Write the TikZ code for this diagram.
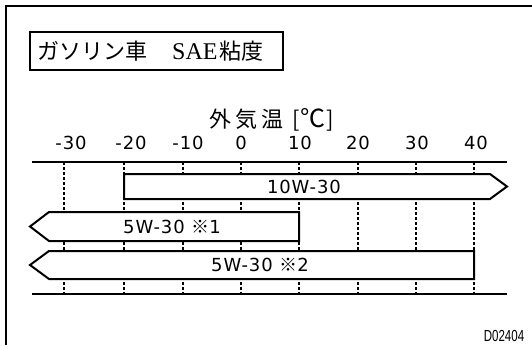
\documentclass[tikz,border=0pt]{standalone}
\usepackage{fontspec}
\setmainfont{DejaVu Sans}
\newfontfamily\jp{Noto Sans CJK JP}
\newfontfamily\jpa[LetterSpace=18]{Noto Sans CJK JP}
\newfontfamily\numf[LetterSpace=5]{DejaVu Sans}
\newfontfamily\serf{Liberation Serif}
\tikzset{
  frameline/.style={line width=1.6pt},
  bar/.style={draw, line width=2pt, fill=white, line join=miter},
  gridline/.style={line width=1.1pt, dash pattern=on 3pt off 2pt},
  axisline/.style={line width=1.6pt},
  ticklab/.style={font=\numf\fontsize{18}{18}\selectfont, inner sep=0pt},
  barlab/.style={font=\numf\fontsize{18}{18}\selectfont, inner sep=0pt},
}
\begin{document}
\begin{tikzpicture}[x=1pt,y=-1pt]
\useasboundingbox (0,0) rectangle (532,345);
% outer frame (top and left edges)
\coordinate (fa) at (532,6);
\coordinate (fb) at (6,6);
\coordinate (fc) at (6,345);
\draw[frameline] (fa) -- (fb) -- (fc);
% title box
\node[draw, line width=1.8pt, minimum width=253pt, minimum height=38pt, anchor=north west, inner sep=0pt] (titlebox) at (29,31) {};
\node[anchor=west, inner sep=0pt, font=\jp\fontsize{22}{22}\selectfont] (titletext) at (37,51) {ガソリン車\hspace{25pt}{\serf\fontsize{24}{24}\selectfont SAE}\hspace{2pt}粘度};
% axis title
\node[anchor=west, inner sep=0pt, font=\jpa\fontsize{22}{22}\selectfont] (axtitle) at (209,120) {外気温\hspace{9pt}{\jp\fontsize{22}{22}\selectfont[\hspace{1pt}{\fontsize{25}{25}\selectfont ℃}\hspace{1pt}]}};
% grid lines
\foreach \x/\n in {64/a,124/b,183/c,241/d,299/e,358/f,416/g,474/h} {
  \coordinate (top\n) at (\x,162);
  \coordinate (bot\n) at (\x,294);
  \draw[gridline] (top\n) -- (bot\n);
}
% axis lines
\coordinate (axl) at (32,162); \coordinate (axr) at (507,162);
\coordinate (bxl) at (32,294); \coordinate (bxr) at (507,294);
\draw[axisline] (axl) -- (axr);
\draw[axisline] (bxl) -- (bxr);
% tick labels
\node[ticklab] (lm30) at (71,143) {-30};
\node[ticklab] (lm20) at (131,143) {-20};
\node[ticklab] (lm10) at (188,143) {-10};
\node[ticklab] (l0) at (241,143) {0};
\node[ticklab] (l10) at (300,143) {10};
\node[ticklab] (l20) at (358,143) {20};
\node[ticklab] (l30) at (417,143) {30};
\node[ticklab] (l40) at (476,143) {40};
% bars
\draw[bar] (124,174) -- (490,174) -- (507,186.5) -- (490,199) -- (124,199) -- cycle;
\draw[bar] (299,212) -- (49,212) -- (30,226.5) -- (49,241) -- (299,241) -- cycle;
\draw[bar] (474,251) -- (49,251) -- (30,265) -- (49,279) -- (474,279) -- cycle;
\node[barlab] (b1) at (304,186.5) {10W-30};
\node[barlab] (b2) at (172,226.5) {5W-30 {\jp ※}1};
\node[barlab] (b3) at (260,265) {5W-30 {\jp ※}2};
% code
\node[inner sep=0pt] (code) at (504,336) {\scalebox{0.72}[1]{\fontspec{Liberation Sans}\fontsize{16}{16}\selectfont D02404}};
\end{tikzpicture}
\end{document}
